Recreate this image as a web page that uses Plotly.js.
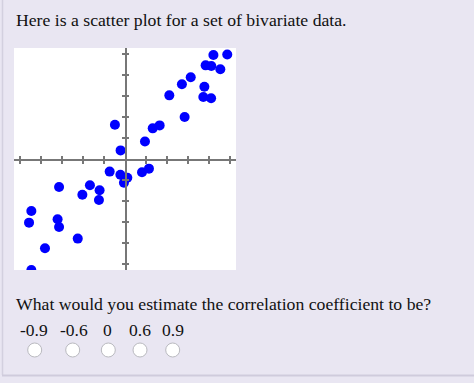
<!DOCTYPE html>
<html>
<head>
<meta charset="utf-8">
<script src="https://cdn.plot.ly/plotly-3.0.1.min.js"></script>
<style>
  html, body { margin: 0; padding: 0; background: #e9e6f2; }
  #chart { width: 474px; height: 383px; }
</style>
</head>
<body>
<div id="chart"></div>
<script>
// Data
const xVals = [4.21, 4.87, 3.84, 4.11, 4.54, 3.13, 2.71, 3.78, 2.11, 3.73, 4.10, 2.84,
               -0.48, 1.32, 1.65, 0.95, -0.21, -0.73, -0.22, 0.11, -0.05, 0.81, 1.14,
               -3.14, -1.67, -1.21, -2.03, -1.24, -4.46, -4.57, -3.21, -3.14, -2.25, -3.81, -4.46];
const yVals = [4.95, 4.98, 4.46, 4.43, 4.27, 3.89, 3.56, 3.44, 3.03, 2.95, 2.89, 2.00,
               1.63, 1.46, 1.60, 0.83, 0.41, -0.60, -0.75, -0.89, -1.13, -0.63, -0.46,
               -1.33, -1.25, -1.49, -1.70, -1.95, -2.48, -3.03, -2.87, -3.24, -3.79, -4.25, -5.29];
const tickVals = [-5, -4, -3, -2, -1, 1, 2, 3, 4, 5];
const headerText = "Here is a scatter plot for a set of bivariate data.";
const questionText = "What would you estimate the correlation coefficient to be?";
const choiceLabels = ["-0.9", "-0.6", "0", "0.6", "0.9"];

// Layout geometry (pixels)
const W = 474, H = 383;
const plotL = 14, plotT = 48, plotSize = 222;
const fx = px => (px - plotL) / plotSize;
const fy = py => (plotT + plotSize - py) / plotSize;
const choiceX = [33.5, 73.5, 107.7, 139.5, 173.3];
const radioX = [34.7, 72.7, 108.3, 140, 172.7];
const serif = "Liberation Serif, Times New Roman, serif";
const axisColor = "#777777";
const R = 5.286;

const axisCommon = {
  range: [-R, R], showgrid: false, zeroline: false, showticklabels: false,
  tickvals: tickVals, ticklen: 3, tickwidth: 1.5, tickcolor: axisColor,
  anchor: "free", position: 0.5, fixedrange: true
};

const traces = [
  {
    x: xVals, y: yVals, type: "scatter", mode: "markers",
    marker: { color: "rgb(0,0,255)", size: 10 },
    hoverinfo: "skip"
  },
  {
    x: xVals, y: yVals, type: "scatter", mode: "markers",
    xaxis: "x2", yaxis: "y2",
    marker: { color: "rgba(0,0,0,0)", size: 1 },
    hoverinfo: "skip"
  }
];

const annotations = [
  { text: headerText, xref: "paper", yref: "paper", x: fx(14), y: fy(19.6),
    xanchor: "left", yanchor: "middle", showarrow: false,
    font: { family: serif, size: 17.7, color: "#111111" } },
  { text: questionText, xref: "paper", yref: "paper", x: fx(14), y: fy(303.6),
    xanchor: "left", yanchor: "middle", showarrow: false,
    font: { family: serif, size: 17.7, color: "#111111" } }
];
choiceLabels.forEach((lab, i) => {
  annotations.push({ text: lab, xref: "paper", yref: "paper", x: fx(choiceX[i]), y: fy(330),
    xanchor: "center", yanchor: "middle", showarrow: false,
    font: { family: serif, size: 17.5, color: "#111111" } });
});

const shapes = [];
const r = 7;
radioX.forEach(cx => {
  shapes.push({ type: "circle", xref: "paper", yref: "paper",
    x0: fx(cx - r), x1: fx(cx + r), y0: fy(350 + r), y1: fy(350 - r),
    fillcolor: "#ffffff", line: { color: "#b9b9bf", width: 1 } });
});
// page borders
shapes.push({ type: "line", xref: "paper", yref: "paper",
  x0: fx(2.5), x1: fx(2.5), y0: fy(0), y1: fy(375), line: { color: "#d3d0df", width: 1.5 } });
shapes.push({ type: "line", xref: "paper", yref: "paper",
  x0: fx(2), x1: fx(474), y0: fy(375.5), y1: fy(375.5), line: { color: "#cfcbdc", width: 2 } });

const layout = {
  width: W, height: H,
  margin: { l: plotL, r: W - plotL - plotSize, t: plotT, b: H - plotT - plotSize, pad: 0 },
  paper_bgcolor: "#e9e6f2", plot_bgcolor: "#ffffff",
  showlegend: false,
  xaxis: Object.assign({}, axisCommon, { showline: true, linecolor: axisColor, linewidth: 1.5, ticks: "outside", side: "bottom" }),
  yaxis: Object.assign({}, axisCommon, { showline: true, linecolor: axisColor, linewidth: 1.5, ticks: "outside", side: "left" }),
  xaxis2: Object.assign({}, axisCommon, { overlaying: "x", showline: false, ticks: "inside", side: "bottom" }),
  yaxis2: Object.assign({}, axisCommon, { overlaying: "y", showline: false, ticks: "inside", side: "left" }),
  annotations: annotations,
  shapes: shapes
};

Plotly.newPlot("chart", traces, layout, { displayModeBar: false, staticPlot: true });
</script>
</body>
</html>
